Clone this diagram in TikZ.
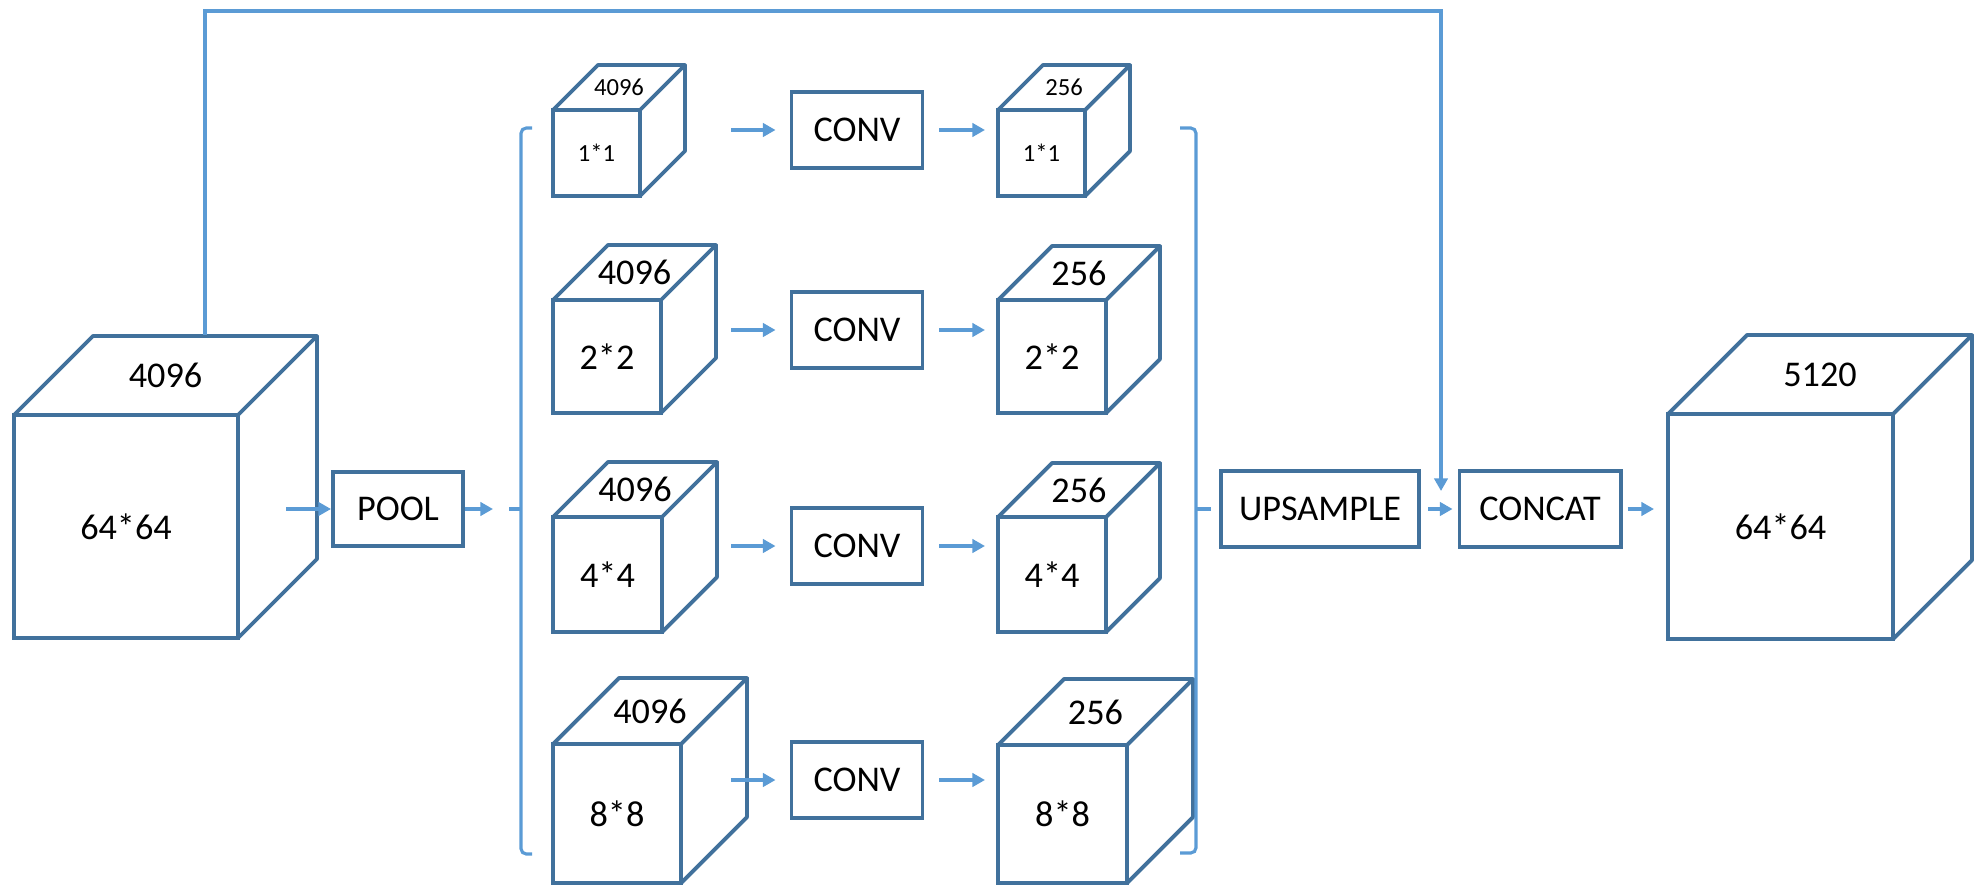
\documentclass[tikz,border=0pt]{standalone}
\usepackage{fontspec}
\setmainfont{Carlito}
\usetikzlibrary{arrows.meta,calc,positioning}

\definecolor{edgeblue}{RGB}{65,113,156}
\definecolor{linkblue}{RGB}{91,155,213}

\newcommand{\lbl}{\fontsize{10.3}{12}\selectfont}
\newcommand{\tinylbl}{\fontsize{7}{8}\selectfont}

\tikzset{
  face/.style={draw=edgeblue, line width=1.1pt, inner sep=0pt, outer sep=0pt},
  cubeline/.style={draw=edgeblue, line width=1.1pt, line join=round},
  opbox/.style={draw=edgeblue, line width=1.1pt, minimum height=0.76cm, inner sep=0pt, font=\lbl},
  link/.style={draw=linkblue, line width=0.9pt},
  arr/.style={link, -{Triangle[length=3.6pt,width=3.8pt]}},
}

% feature map as a cube: name, front top-left, width, height, depth, top text, front text, font
\newcommand{\fmap}[8]{%
  \node[face, anchor=north west, minimum width=#3*0.01cm, minimum height=#4*0.01cm] (#1) at (#2) {};
  \draw[cubeline] (#1.north west) -- ++(#5,-#5) -- ++(#3,0) -- (#1.north east);
  \draw[cubeline] (#1.north east) ++(#5,-#5) -- ++(0,#4) -- (#1.south east);
  \node[font=#8] at ([shift={(#5/2,-#5/2)}]#1.north) {#6};
  \node[font=#8] at (#1.center) {#7};
}

\begin{document}
\begin{tikzpicture}[x=0.01cm, y=-0.01cm]
  \useasboundingbox (0,0) rectangle (1982,885);

  % input and output maps
  \fmap{in}{14,415}{224}{223}{79}{4096}{64*64}{\lbl}
  \fmap{out}{1668,414}{225}{225}{79}{5120}{64*64}{\lbl}

  % pooled maps
  \fmap{a1}{553,110}{87}{86}{45}{4096}{1*1}{\tinylbl}
  \fmap{a2}{553,300}{108}{113}{55}{4096}{2*2}{\lbl}
  \fmap{a3}{553,517}{109}{115}{55}{4096}{4*4}{\lbl}
  \fmap{a4}{553,744}{128}{139}{66}{4096}{8*8}{\lbl}

  % reduced maps
  \fmap{b1}{998,110}{87}{86}{45}{256}{1*1}{\tinylbl}
  \fmap{b2}{998,300}{108}{113}{54}{256}{2*2}{\lbl}
  \fmap{b3}{998,517}{108}{115}{54}{256}{4*4}{\lbl}
  \fmap{b4}{998,745}{129}{138}{66}{256}{8*8}{\lbl}

  % operations
  \node[opbox, minimum width=1.30cm, minimum height=0.74cm] (pool) at (398,509) {POOL};
  \node[opbox, minimum width=1.31cm] (conv1) at (857,130) {CONV};
  \node[opbox, minimum width=1.31cm] (conv2) at (857,330) {CONV};
  \node[opbox, minimum width=1.31cm] (conv3) at (857,546) {CONV};
  \node[opbox, minimum width=1.31cm] (conv4) at (857,780) {CONV};
  \node[opbox, minimum width=1.98cm] (up) at (1320,509) {UPSAMPLE};
  \node[opbox, minimum width=1.61cm] (cat) at (1540,509) {CONCAT};

  \coordinate (inout) at (286,509);
  \coordinate (splitL) at (521,509);
  \coordinate (splitR) at (1196,509);
  \coordinate (skipstart) at (205,335);
  \coordinate (skiptop) at (1441,11);
  \coordinate (skipend) at (1441,491);

  % brackets
  \draw[link, rounded corners=1.5pt] (532,128) -- (521,128) -- (521,854) -- (532,854);
  \draw[link, rounded corners=1.5pt] (1180,128) -- (1196,128) -- (1196,853) -- (1180,853);

  \draw[arr] (inout) -- (pool);
  \draw[arr] (pool.east) -- ($(splitL)+(-28,0)$);
  \draw[link] ($(splitL)+(-12,0)$) -- (splitL);

  \foreach \i in {1,...,4} {
    \draw[arr, shorten >=0.14cm] (conv\i.west -| 731,0) -- (conv\i.west);
    \draw[arr, shorten <=0.15cm, shorten >=0.13cm] (conv\i.east) -- (conv\i.east -| b\i.west);
  }

  \draw[link, shorten >=0.08cm] (splitR) -- (up.west);
  \draw[arr, shorten <=0.07cm, shorten >=0.05cm] (up) -- (cat);
  \draw[arr, shorten <=0.05cm, shorten >=0.14cm] (cat.east) -- (cat.east -| out.west);
  \draw[arr] (skipstart) |- (skiptop) -- (skipend);
\end{tikzpicture}
\end{document}
